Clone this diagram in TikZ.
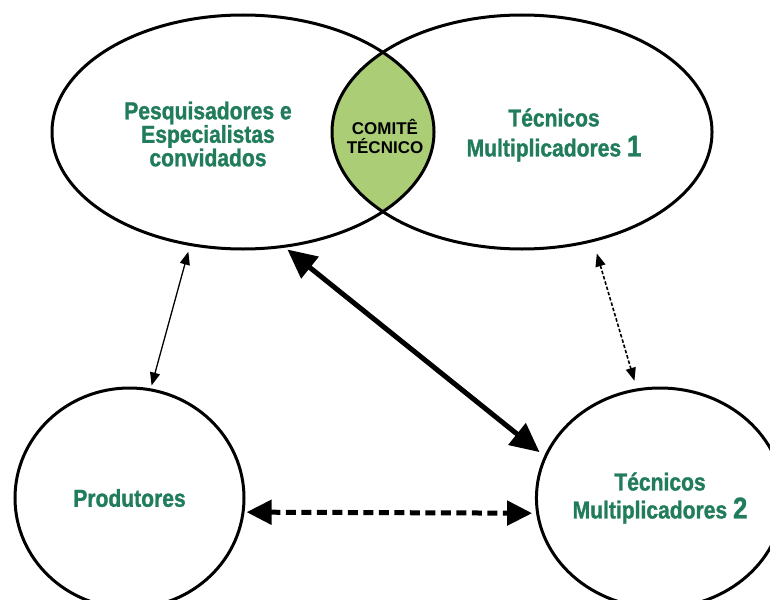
\documentclass[tikz,border=0pt]{standalone}
\usepackage{fontspec}
\setmainfont{Liberation Sans}
\newfontfamily\condfont[FakeStretch=0.86,FakeBold=1.2]{Liberation Sans}
\usetikzlibrary{shapes.geometric,arrows.meta}
\definecolor{txtgreen}{RGB}{32,124,90}
\definecolor{lensgreen}{RGB}{170,205,118}
\tikzset{>={Triangle[length=13pt,width=10pt]}}
\tikzstyle{group} = [ellipse, draw, line width=3pt, inner sep=0pt,
    text=txtgreen, align=center, font=\condfont\bfseries\fontsize{24.5}{28}\selectfont]
\tikzstyle{grouptext} = [text=txtgreen, align=center,
    font=\condfont\bfseries\fontsize{24.5}{23.5}\selectfont]
\tikzstyle{link} = [draw, line width=1.3pt, <->]
\tikzstyle{dotlink} = [draw, line width=1.6pt, <->, dash pattern=on 3.5pt off 2pt]
\tikzstyle{strong} = [draw, line width=5pt,
    {Triangle[length=29pt,width=27pt]}-{Triangle[length=29pt,width=27pt]}]
\tikzstyle{dashlink} = [draw, line width=5pt, dash pattern=on 10pt off 5.5pt,
    {Triangle[length=25pt,width=24pt]}-{Triangle[length=25pt,width=24pt]}]

\begin{document}
\begin{tikzpicture}[x=1pt, y=-1pt]
    \useasboundingbox (0,0) rectangle (770,599);

    \begin{scope}
        \clip (243,132) ellipse [x radius=191pt, y radius=117pt];
        \fill[lensgreen] (522,132) ellipse [x radius=190pt, y radius=117pt];
    \end{scope}

    \node[group, minimum width=382pt, minimum height=234pt] (pesq) at (243,132) {};
    \node[group, minimum width=380pt, minimum height=234pt] (tec1) at (522,132) {};
    \node[group, minimum width=229pt, minimum height=220pt] (prod) at (129.5,498) {Produtores};
    \node[group, minimum width=222pt, minimum height=220pt] (tec2) at (660,498)
        {Técnicos\\Multiplicadores {\fontsize{30}{26}\selectfont 2}};

    \node[grouptext] (pesqtxt) at (208,134) {Pesquisadores e\\Especialistas\\convidados};
    \node[grouptext, font=\condfont\bfseries\fontsize{24.5}{30}\selectfont] (tec1txt) at (554,135)
        {Técnicos\\Multiplicadores {\fontsize{30}{26}\selectfont 1}};
    \node[align=center, font=\bfseries\fontsize{17}{19}\selectfont] (comite) at (385,136)
        {COMITÊ\\TÉCNICO};

    \path[link, shorten <=6pt, shorten >=3pt] (pesq.245) -- (prod.79);
    \path[strong, shorten <=3pt, shorten >=6pt] (pesq.290) -- (tec2.160);
    \path[dotlink, shorten <=12pt, shorten >=8pt] (tec1.303) -- (tec2.102);
    \path[dashlink, shorten <=2pt, shorten >=4pt] (prod.353) -- (tec2.187);
\end{tikzpicture}
\end{document}
